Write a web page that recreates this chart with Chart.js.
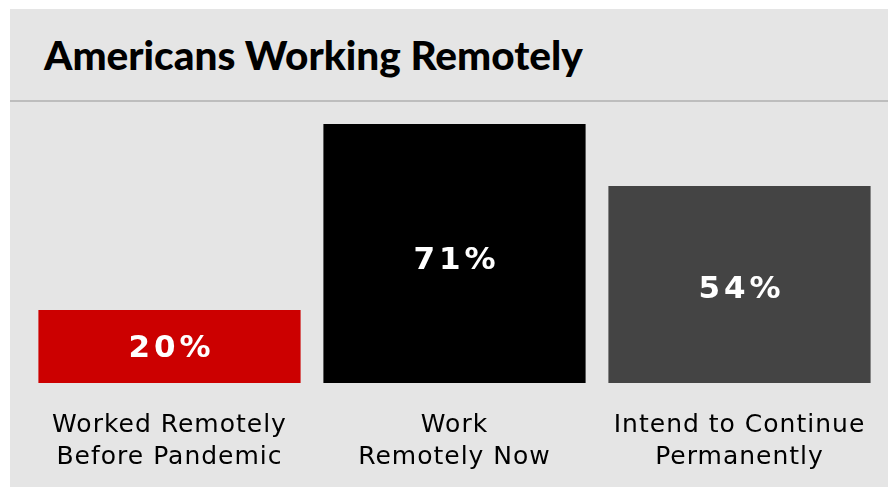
<!DOCTYPE html>
<html>
<head>
<meta charset="utf-8">
<script src="https://cdn.jsdelivr.net/npm/chart.js@4.4.0/dist/chart.umd.min.js"></script>
<style>
  html, body { margin: 0; padding: 0; background: #ffffff; }
  #panel {
    position: absolute; left: 10px; top: 9px; width: 878px; height: 478px;
    background: #e5e5e5; overflow: hidden;
  }
  #titulo {
    height: 91px; border-bottom: 2px solid #bdbdbd; box-sizing: content-box;
    font-family: "Lato", sans-serif; font-weight: 900; font-size: 40.5px;
    color: #000; line-height: 91px; padding-left: 34px; white-space: nowrap;
  }
  #wrap { position: relative; width: 878px; height: 389px; }
</style>
</head>
<body>
<div id="panel">
  <div id="titulo">Americans Working Remotely</div>
  <div id="wrap"><canvas id="grafico"></canvas></div>
</div>
<script>
const categorias = [
  ['Worked Remotely', 'Before Pandemic'],
  ['Work', 'Remotely Now'],
  ['Intend to Continue', 'Permanently']
];
const valores = [20, 71, 54];
const etiquetas = ['20%', '71%', '54%'];
const colores = ['#cc0000', '#000000', '#444444'];

// texto del valor dentro de cada barra, un poco por debajo del centro
const etiquetasBarras = {
  id: 'etiquetasBarras',
  afterDatasetsDraw(chart) {
    const ctx = chart.ctx;
    const meta = chart.getDatasetMeta(0);
    ctx.save();
    ctx.font = 'bold 31px "DejaVu Sans"';
    ctx.fillStyle = '#ffffff';
    ctx.textAlign = 'center';
    ctx.textBaseline = 'middle';
    ctx.letterSpacing = '4px';
    meta.data.forEach((bar, i) => {
      const y = bar.base - 0.47 * (bar.base - bar.y);
      ctx.fillText(etiquetas[i], bar.x + 2, y);
    });
    ctx.restore();
  }
};

// espaciado de letras para las etiquetas del eje
const espaciado = {
  id: 'espaciado',
  beforeDraw(chart) { chart.ctx.letterSpacing = '1px'; }
};

const ctx = document.getElementById('grafico').getContext('2d');
const grafico = new Chart(ctx, {
  type: 'bar',
  data: {
    labels: categorias,
    datasets: [{
      data: valores,
      backgroundColor: colores,
      borderWidth: 0,
      barPercentage: 0.92,
      categoryPercentage: 1
    }]
  },
  options: {
    responsive: true,
    maintainAspectRatio: false,
    animation: false,
    layout: { padding: { left: 17, right: 6, top: 22, bottom: 0 } },
    plugins: { legend: { display: false }, tooltip: { enabled: false } },
    scales: {
      x: {
        grid: { display: false },
        border: { display: false },
        ticks: {
          color: '#000000',
          padding: 18,
          maxRotation: 0,
          autoSkip: false,
          font: { family: '"DejaVu Sans"', size: 25, lineHeight: 1.28 }
        }
      },
      y: {
        display: false,
        min: 0,
        max: 71
      }
    }
  },
  plugins: [espaciado, etiquetasBarras]
});
</script>
</body>
</html>
